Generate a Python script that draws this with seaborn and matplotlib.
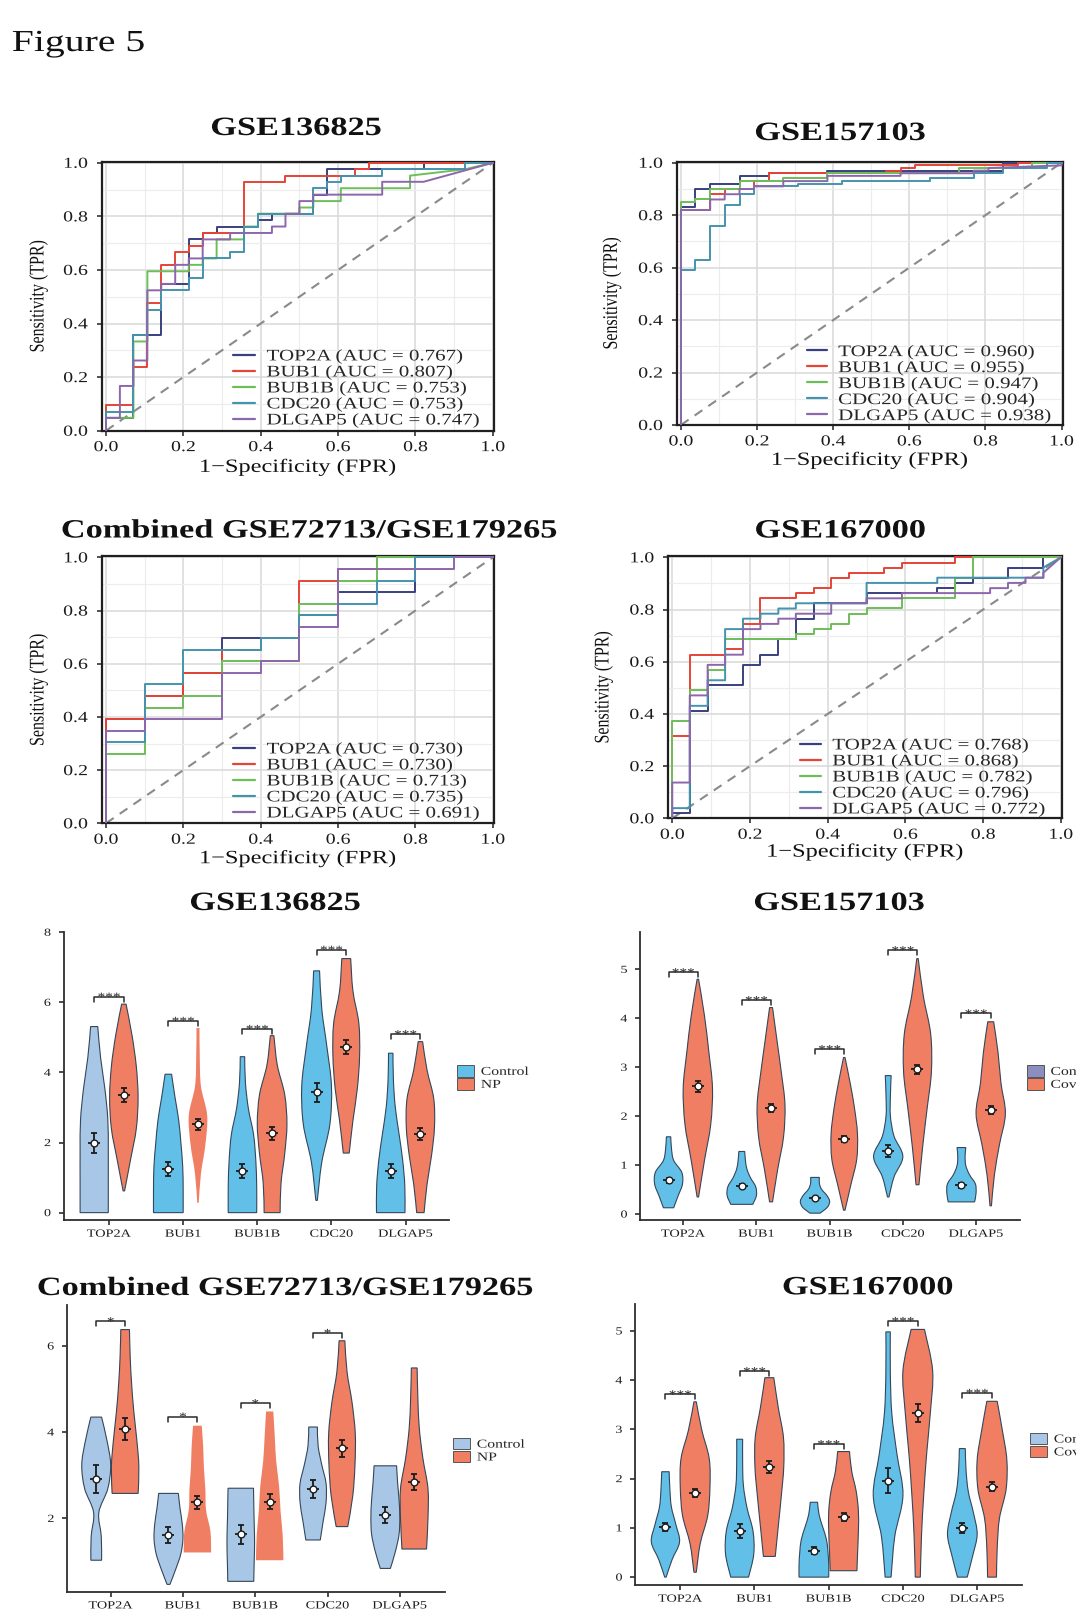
import matplotlib
matplotlib.use("Agg")
import matplotlib.pyplot as plt
import matplotlib.patheffects as pe
from matplotlib.path import Path
from matplotlib.patches import PathPatch, Patch
from matplotlib.lines import Line2D
from matplotlib.transforms import Affine2D
import seaborn as sns

# ---------------------------------------------------------------- data
GENES = ["TOP2A", "BUB1", "BUB1B", "CDC20", "DLGAP5"]

# ROC corner points, GSE136825
A_FPR = [
    [0, 0, 0.071, 0.071, 0.143, 0.143, 0.214, 0.214, 0.25, 0.25, 0.286, 0.286, 0.393, 0.393, 0.429, 0.429, 0.536, 0.536, 0.571, 0.571, 0.821, 0.821, 1.0],
    [0, 0, 0.071, 0.071, 0.107, 0.107, 0.143, 0.143, 0.179, 0.179, 0.214, 0.214, 0.25, 0.25, 0.357, 0.357, 0.464, 0.464, 0.643, 0.643, 0.679, 0.679, 1.0],
    [0, 0, 0.071, 0.071, 0.107, 0.107, 0.214, 0.214, 0.25, 0.25, 0.286, 0.286, 0.357, 0.357, 0.393, 0.393, 0.5, 0.5, 0.536, 0.536, 0.607, 0.607, 0.786, 0.786, 0.929, 1.0],
    [0, 0, 0.071, 0.071, 0.107, 0.107, 0.143, 0.143, 0.214, 0.214, 0.25, 0.25, 0.321, 0.321, 0.357, 0.357, 0.393, 0.393, 0.536, 0.536, 0.571, 0.571, 0.607, 0.607, 0.714, 0.714, 0.929, 0.929, 1.0],
    [0, 0, 0.036, 0.036, 0.071, 0.071, 0.107, 0.107, 0.143, 0.143, 0.179, 0.179, 0.214, 0.214, 0.25, 0.25, 0.321, 0.321, 0.429, 0.429, 0.464, 0.464, 0.5, 0.5, 0.536, 0.536, 0.714, 0.714, 0.821, 1.0],
]
A_TPR = [
    [0, 0.048, 0.048, 0.357, 0.357, 0.548, 0.548, 0.714, 0.714, 0.738, 0.738, 0.762, 0.762, 0.786, 0.786, 0.81, 0.81, 0.881, 0.881, 0.976, 0.976, 1.0, 1.0],
    [0, 0.095, 0.095, 0.238, 0.238, 0.476, 0.476, 0.619, 0.619, 0.667, 0.667, 0.69, 0.69, 0.738, 0.738, 0.929, 0.929, 0.952, 0.952, 0.976, 0.976, 1.0, 1.0],
    [0, 0.048, 0.048, 0.333, 0.333, 0.595, 0.595, 0.619, 0.619, 0.643, 0.643, 0.714, 0.714, 0.762, 0.762, 0.81, 0.81, 0.833, 0.833, 0.857, 0.857, 0.905, 0.905, 0.952, 0.976, 1.0],
    [0, 0.071, 0.071, 0.357, 0.357, 0.452, 0.452, 0.524, 0.524, 0.571, 0.571, 0.643, 0.643, 0.667, 0.667, 0.762, 0.762, 0.81, 0.81, 0.905, 0.905, 0.929, 0.929, 0.952, 0.952, 0.976, 0.976, 1.0, 1.0],
    [0, 0.048, 0.048, 0.167, 0.167, 0.262, 0.262, 0.524, 0.524, 0.548, 0.548, 0.619, 0.619, 0.643, 0.643, 0.714, 0.714, 0.738, 0.738, 0.762, 0.762, 0.81, 0.81, 0.857, 0.857, 0.881, 0.881, 0.929, 0.929, 1.0],
]
A_AUC = [0.767, 0.807, 0.753, 0.753, 0.747]

# ROC corner points, GSE157103
B_FPR = [
    [0, 0, 0.038, 0.038, 0.077, 0.077, 0.154, 0.154, 0.231, 0.231, 0.385, 0.385, 0.846, 0.846, 1.0],
    [0, 0, 0.077, 0.077, 0.115, 0.115, 0.192, 0.192, 0.231, 0.231, 0.538, 0.538, 0.577, 0.577, 0.615, 0.615, 0.885, 0.885, 1.0],
    [0, 0, 0.038, 0.038, 0.077, 0.077, 0.154, 0.154, 0.269, 0.269, 0.385, 0.385, 0.731, 0.731, 0.923, 0.923, 1.0],
    [0, 0, 0.038, 0.038, 0.077, 0.077, 0.115, 0.115, 0.154, 0.154, 0.192, 0.192, 0.308, 0.308, 0.423, 0.423, 0.654, 0.654, 0.769, 0.769, 0.846, 0.846, 0.962, 0.962, 1.0],
    [0, 0, 0.077, 0.077, 0.115, 0.115, 0.154, 0.154, 0.192, 0.192, 0.269, 0.269, 0.385, 0.385, 0.577, 0.577, 0.769, 0.769, 0.808, 0.808, 1.0, 1.0],
]
B_TPR = [
    [0, 0.83, 0.83, 0.9, 0.9, 0.92, 0.92, 0.95, 0.95, 0.96, 0.96, 0.97, 0.97, 1.0, 1.0],
    [0, 0.82, 0.82, 0.88, 0.88, 0.9, 0.9, 0.93, 0.93, 0.96, 0.96, 0.97, 0.97, 0.98, 0.98, 0.99, 0.99, 1.0, 1.0],
    [0, 0.85, 0.85, 0.86, 0.86, 0.9, 0.9, 0.93, 0.93, 0.94, 0.94, 0.96, 0.96, 0.98, 0.98, 1.0, 1.0],
    [0, 0.59, 0.59, 0.63, 0.63, 0.76, 0.76, 0.84, 0.84, 0.88, 0.88, 0.91, 0.91, 0.92, 0.92, 0.93, 0.93, 0.94, 0.94, 0.96, 0.96, 0.98, 0.98, 1.0, 1.0],
    [0, 0.82, 0.82, 0.86, 0.86, 0.88, 0.88, 0.9, 0.9, 0.91, 0.91, 0.93, 0.93, 0.95, 0.95, 0.96, 0.96, 0.97, 0.97, 0.98, 0.99, 1.0],
]
B_AUC = [0.960, 0.955, 0.947, 0.904, 0.938]

# ROC corner points, combined GSE72713/GSE179265
C_FPR = [
    [0, 0, 0.1, 0.1, 0.2, 0.2, 0.3, 0.3, 0.5, 0.5, 0.6, 0.6, 0.8, 0.8, 1.0],
    [0, 0, 0.1, 0.1, 0.2, 0.2, 0.3, 0.3, 0.4, 0.4, 0.5, 0.5, 0.6, 0.6, 0.7, 0.7, 1.0],
    [0, 0, 0.1, 0.1, 0.2, 0.2, 0.3, 0.3, 0.5, 0.5, 0.6, 0.6, 0.7, 0.7, 1.0],
    [0, 0, 0.1, 0.1, 0.2, 0.2, 0.4, 0.4, 0.5, 0.5, 0.6, 0.6, 0.7, 0.7, 0.8, 0.8, 1.0],
    [0, 0, 0.1, 0.1, 0.3, 0.3, 0.4, 0.4, 0.5, 0.5, 0.6, 0.6, 0.9, 0.9, 1.0],
]
C_TPR = [
    [0, 0.391, 0.391, 0.478, 0.478, 0.565, 0.565, 0.696, 0.696, 0.783, 0.783, 0.87, 0.87, 1.0, 1.0],
    [0, 0.391, 0.391, 0.478, 0.478, 0.565, 0.565, 0.652, 0.652, 0.696, 0.696, 0.913, 0.913, 0.957, 0.957, 1.0, 1.0],
    [0, 0.261, 0.261, 0.435, 0.435, 0.478, 0.478, 0.609, 0.609, 0.826, 0.826, 0.913, 0.913, 1.0, 1.0],
    [0, 0.304, 0.304, 0.522, 0.522, 0.652, 0.652, 0.696, 0.696, 0.783, 0.783, 0.826, 0.826, 0.913, 0.913, 1.0, 1.0],
    [0, 0.348, 0.348, 0.391, 0.391, 0.565, 0.565, 0.609, 0.609, 0.739, 0.739, 0.957, 0.957, 1.0, 1.0],
]
C_AUC = [0.730, 0.730, 0.713, 0.735, 0.691]

# ROC corner points, GSE167000
D_FPR = [
    [0, 0, 0.045, 0.045, 0.091, 0.091, 0.182, 0.182, 0.227, 0.227, 0.273, 0.273, 0.318, 0.318, 0.364, 0.364, 0.5, 0.5, 0.682, 0.682, 0.727, 0.727, 0.773, 0.773, 0.864, 0.864, 0.955, 0.955, 1.0],
    [0, 0, 0.045, 0.045, 0.136, 0.136, 0.182, 0.182, 0.227, 0.227, 0.318, 0.318, 0.364, 0.364, 0.409, 0.409, 0.455, 0.455, 0.545, 0.545, 0.591, 0.591, 0.727, 0.727, 1.0],
    [0, 0, 0.045, 0.045, 0.091, 0.091, 0.136, 0.136, 0.318, 0.318, 0.364, 0.364, 0.409, 0.409, 0.455, 0.455, 0.5, 0.5, 0.591, 0.591, 0.727, 0.727, 0.773, 0.773, 1.0],
    [0, 0, 0.045, 0.045, 0.091, 0.091, 0.136, 0.136, 0.182, 0.182, 0.227, 0.227, 0.273, 0.273, 0.318, 0.318, 0.5, 0.5, 0.682, 0.682, 0.955, 0.955, 1.0],
    [0, 0, 0.045, 0.045, 0.091, 0.091, 0.136, 0.136, 0.182, 0.182, 0.227, 0.227, 0.273, 0.273, 0.318, 0.318, 0.409, 0.409, 0.5, 0.5, 0.591, 0.591, 0.818, 0.818, 0.864, 0.864, 0.909, 0.909, 0.955, 0.955, 1.0],
]
D_TPR = [
    [0, 0.02, 0.02, 0.412, 0.412, 0.51, 0.51, 0.588, 0.588, 0.627, 0.627, 0.686, 0.686, 0.765, 0.765, 0.824, 0.824, 0.863, 0.863, 0.882, 0.882, 0.902, 0.902, 0.922, 0.922, 0.961, 0.961, 1.0, 1.0],
    [0, 0.314, 0.314, 0.627, 0.627, 0.647, 0.647, 0.745, 0.745, 0.843, 0.843, 0.863, 0.863, 0.882, 0.882, 0.922, 0.922, 0.941, 0.941, 0.961, 0.961, 0.98, 0.98, 1.0, 1.0],
    [0, 0.373, 0.373, 0.49, 0.49, 0.569, 0.569, 0.686, 0.686, 0.706, 0.706, 0.725, 0.725, 0.745, 0.745, 0.784, 0.784, 0.804, 0.804, 0.843, 0.843, 0.922, 0.922, 1.0, 1.0],
    [0, 0.039, 0.039, 0.431, 0.431, 0.529, 0.529, 0.725, 0.725, 0.765, 0.765, 0.784, 0.784, 0.804, 0.804, 0.824, 0.824, 0.902, 0.902, 0.922, 0.922, 0.961, 1.0],
    [0, 0.137, 0.137, 0.471, 0.471, 0.588, 0.588, 0.627, 0.627, 0.725, 0.725, 0.745, 0.745, 0.765, 0.765, 0.784, 0.784, 0.824, 0.824, 0.843, 0.843, 0.863, 0.863, 0.882, 0.882, 0.902, 0.902, 0.922, 0.922, 0.941, 1.0],
]
D_AUC = [0.768, 0.868, 0.782, 0.796, 0.772]

# Violin outlines: (min, max) of each group and relative half-widths at
# evenly spaced heights between them; group means with error bars.
E_CTRL_SPAN = [(0.0, 5.31), (0.0, 3.95), (0.0, 4.45), (0.35, 6.9), (0.0, 4.55)]
E_CTRL_SHAPE = [[0.95, 0.95, 0.95, 0.92, 0.72, 0.43, 0.24], [1.0, 1.0, 0.97, 0.85, 0.7, 0.45, 0.22],
                [0.96, 0.96, 0.9, 0.75, 0.4, 0.2, 0.15], [0.05, 0.35, 0.9, 1.0, 0.7, 0.35, 0.2],
                [0.96, 0.95, 0.8, 0.55, 0.3, 0.18, 0.15]]
E_CASE_SPAN = [(0.62, 5.95), (0.28, 5.27), (0.0, 5.05), (1.7, 7.25), (0.0, 4.88)]
E_CASE_SHAPE = [[0.05, 0.45, 0.84, 0.96, 0.84, 0.55, 0.15], [0.05, 0.2, 0.5, 0.62, 0.2, 0.12, 0.1],
                [0.54, 0.6, 0.85, 1.0, 0.85, 0.35, 0.12], [0.2, 0.45, 0.75, 0.9, 0.85, 0.45, 0.3],
                [0.25, 0.45, 0.75, 0.95, 0.9, 0.45, 0.15]]
E_CTRL_MEAN = [1.98, 1.25, 1.2, 3.43, 1.19]
E_CTRL_ERR = [0.28, 0.2, 0.2, 0.28, 0.2]
E_CASE_MEAN = [3.36, 2.52, 2.26, 4.72, 2.24]
E_CASE_ERR = [0.2, 0.15, 0.18, 0.2, 0.18]
E_BRACKET = [6.16, 5.47, 5.24, 7.5, 5.09]
E_STARS = ["***", "***", "***", "***", "***"]

F_CTRL_SPAN = [(0.13, 1.58), (0.2, 1.28), (0.02, 0.75), (0.35, 2.83), (0.25, 1.36)]
F_CTRL_SHAPE = [[0.35, 0.65, 0.95, 0.9, 0.35, 0.2, 0.15], [0.75, 1.0, 0.95, 0.6, 0.35, 0.25, 0.2],
                [0.35, 0.85, 1.0, 0.8, 0.45, 0.3, 0.3], [0.05, 0.4, 1.0, 0.4, 0.15, 0.15, 0.2],
                [0.9, 1.0, 0.95, 0.55, 0.3, 0.25, 0.3]]
F_CASE_SPAN = [(0.35, 4.8), (0.25, 4.22), (0.08, 3.2), (0.6, 5.22), (0.17, 3.93)]
F_CASE_SHAPE = [[0.05, 0.45, 0.88, 1.0, 0.75, 0.45, 0.05], [0.1, 0.45, 0.85, 0.95, 0.7, 0.4, 0.1],
                [0.05, 0.45, 0.85, 0.9, 0.7, 0.4, 0.05], [0.1, 0.35, 0.65, 0.95, 0.9, 0.4, 0.05],
                [0.05, 0.25, 0.6, 1.0, 0.7, 0.5, 0.2]]
F_CTRL_MEAN = [0.69, 0.57, 0.32, 1.29, 0.59]
F_CTRL_ERR = [0.05, 0.04, 0.04, 0.12, 0.05]
F_CASE_MEAN = [2.61, 2.16, 1.53, 2.96, 2.13]
F_CASE_ERR = [0.11, 0.08, 0.06, 0.09, 0.08]
F_BRACKET = [4.94, 4.37, 3.37, 5.39, 4.1]
F_STARS = ["***", "***", "***", "***", "***"]

G_CTRL_SPAN = [(1.03, 4.35), (0.47, 2.58), (0.54, 2.7), (1.5, 4.12), (0.84, 3.22)]
G_CTRL_SHAPE = [[0.37, 0.35, 0.18, 0.8, 1.0, 0.75, 0.37], [0.1, 0.5, 0.85, 1.0, 0.95, 0.8, 0.68],
                [0.9, 0.92, 0.95, 0.95, 0.92, 0.9, 0.88], [0.5, 0.7, 0.9, 0.9, 0.6, 0.35, 0.3],
                [0.35, 0.7, 0.95, 1.0, 0.95, 0.85, 0.78]]
G_CASE_SPAN = [(2.58, 6.38), (1.21, 4.15), (1.03, 4.48), (1.81, 6.12), (1.29, 5.49)]
G_CASE_SHAPE = [[0.9, 0.95, 0.8, 0.6, 0.45, 0.35, 0.3], [0.95, 0.9, 0.6, 0.55, 0.45, 0.4, 0.3],
                [0.95, 0.9, 0.75, 0.65, 0.45, 0.35, 0.25], [0.4, 0.75, 0.9, 0.92, 0.7, 0.35, 0.2],
                [0.85, 0.95, 0.95, 0.6, 0.35, 0.25, 0.2]]
G_CTRL_MEAN = [2.91, 1.61, 1.63, 2.68, 2.08]
G_CTRL_ERR = [0.33, 0.18, 0.22, 0.2, 0.18]
G_CASE_MEAN = [4.07, 2.37, 2.39, 3.63, 2.85]
G_CASE_ERR = [0.25, 0.16, 0.17, 0.2, 0.18]
G_BRACKET = [6.57, 4.36, 4.67, 6.3, None]
G_STARS = ["*", "*", "*", "*", ""]

H_CTRL_SPAN = [(0.0, 2.14), (0.0, 2.8), (0.0, 1.52), (0.0, 4.98), (0.0, 2.61)]
H_CTRL_SHAPE = [[0.05, 0.45, 0.95, 0.7, 0.4, 0.3, 0.25], [0.6, 0.95, 0.9, 0.5, 0.25, 0.2, 0.2],
                [1.0, 1.0, 0.95, 0.85, 0.6, 0.35, 0.25], [0.2, 0.45, 1.0, 0.6, 0.25, 0.15, 0.15],
                [0.33, 0.7, 1.0, 0.75, 0.4, 0.25, 0.2]]
H_CASE_SPAN = [(0.1, 3.56), (0.42, 4.05), (0.13, 2.55), (0.0, 5.03), (0.0, 3.57)]
H_CASE_SHAPE = [[0.08, 0.34, 0.85, 1.0, 0.95, 0.45, 0.08], [0.4, 0.6, 0.8, 0.97, 0.95, 0.6, 0.3],
                [0.9, 0.95, 1.0, 1.0, 0.85, 0.55, 0.4], [0.17, 0.25, 0.4, 0.6, 0.85, 1.0, 0.45],
                [0.3, 0.35, 0.5, 0.95, 1.0, 0.7, 0.35]]
H_CTRL_MEAN = [1.01, 0.93, 0.54, 1.96, 0.99]
H_CTRL_ERR = [0.08, 0.14, 0.07, 0.25, 0.1]
H_CASE_MEAN = [1.7, 2.23, 1.22, 3.34, 1.84]
H_CASE_ERR = [0.08, 0.12, 0.08, 0.18, 0.1]
H_BRACKET = [3.71, 4.18, 2.7, 5.2, 3.74]
H_STARS = ["***", "***", "***", "***", "***"]

# ---------------------------------------------------------------- style
ROC_COLORS = ["#3a3f80", "#e54436", "#6dbe58", "#4593ad", "#8c67ac"]
SKY = "#62bfe8"
PALE = "#a8c7e6"
LAVENDER = "#8e8dc0"
SALMON = "#ef7e62"
EDGE = "#34475a"
INK = "#1c1c1c"
HALF = 0.2          # half-width of a violin at relative width 1
STRETCH = 1.3       # horizontal widening of the serif lettering

sns.set_theme(style="white")
plt.rcParams["font.family"] = ["Liberation Serif", "DejaVu Serif"]

W, H = 1076, 1612
fig = plt.figure(figsize=(W / 100, H / 100), dpi=100)
fig.patch.set_facecolor("white")


class StretchX(pe.AbstractPathEffect):
    """Draw a text path widened horizontally about one of its edges."""

    def __init__(self, sx=STRETCH, anchor="center"):
        super().__init__()
        self._sx = sx
        self._anchor = anchor

    def draw_path(self, renderer, gc, tpath, affine, rgbFace=None):
        ext = tpath.get_extents(affine)
        if self._anchor == "left":
            cx = ext.x0
        elif self._anchor == "right":
            cx = ext.x1
        else:
            cx = 0.5 * (ext.x0 + ext.x1)
        widen = Affine2D().translate(-cx, 0).scale(self._sx, 1).translate(cx, 0)
        renderer.draw_path(gc, tpath, affine + widen, rgbFace)


def widen(texts, anchor):
    for t in texts:
        t.set_path_effects([StretchX(STRETCH, anchor)])


def px_axes(l, t, r, b):
    return fig.add_axes([l / W, 1 - b / H, (r - l) / W, (b - t) / H])


def fig_text(x, y, s, size, weight="normal", ha="center"):
    t = fig.text(x / W, 1 - y / H, s, fontsize=size, fontweight=weight,
                 ha=ha, va="baseline", color="#111111")
    widen([t], ha)
    return t


fig_text(12, 51, "Figure 5", 22, ha="left")


def roc_panel(box, title, title_xy, tsize, fprs, tprs, aucs, leg_xy, hlen, ylab_x, xlab_y):
    l, t, r, b = box
    ax = px_axes(l, t, r, b)
    ax.set_facecolor("white")
    ax.plot([0, 1], [0, 1], ls=(0, (4.5, 3.5)), color="#8a8a8a", lw=1.5, zorder=1.5)
    for f, tp, c in zip(fprs, tprs, ROC_COLORS):
        sns.lineplot(x=f, y=tp, sort=False, estimator=None, color=c,
                     linewidth=1.4, legend=False, ax=ax, zorder=3)
    ax.set_xlim(-0.011, 1.003)
    ax.set_ylim(0, 1.004)
    ticks = [0.0, 0.2, 0.4, 0.6, 0.8, 1.0]
    minor = [0.1, 0.3, 0.5, 0.7, 0.9]
    ax.set_xticks(ticks)
    ax.set_yticks(ticks)
    xl = ax.set_xticklabels([f"{v:.1f}" for v in ticks])
    yl = ax.set_yticklabels([f"{v:.1f}" for v in ticks])
    ax.set_xticks(minor, minor=True)
    ax.set_yticks(minor, minor=True)
    ax.set_axisbelow(True)
    ax.grid(True, which="major", color="#d9d9d9", lw=1.1)
    ax.grid(True, which="minor", color="#ececec", lw=0.8)
    ax.tick_params(which="major", bottom=True, left=True, direction="out",
                   length=3.6, width=1.1, color="#222222", labelsize=11,
                   labelcolor="#1a1a1a")
    ax.tick_params(axis="x", which="major", pad=3.9)
    ax.tick_params(axis="y", which="major", pad=6.5)
    ax.tick_params(which="minor", length=0)
    widen(xl, "center")
    widen(yl, "right")
    for sp in ax.spines.values():
        sp.set_visible(True)
        sp.set_color("#1f1f1f")
        sp.set_linewidth(1.6)
    ax.set_xlabel("1\u2212Specificity (FPR)", fontsize=13.5, va="center", color="#111111")
    ax.xaxis.set_label_coords(0.5, -(xlab_y - b) / (b - t))
    ax.set_ylabel("Sensitivity (TPR)", fontsize=11.5, va="center", color="#111111")
    ax.yaxis.set_label_coords((ylab_x - l) / (r - l), 0.5)
    widen([ax.xaxis.label, ax.yaxis.label], "center")
    handles = [Line2D([], [], color=c, lw=1.6) for c in ROC_COLORS]
    labels = [f"{g} (AUC = {a:.3f})" for g, a in zip(GENES, aucs)]
    leg = ax.legend(handles, labels, loc="upper left",
                    bbox_to_anchor=(leg_xy[0] / W, 1 - leg_xy[1] / H),
                    bbox_transform=fig.transFigure, frameon=False, borderpad=0,
                    borderaxespad=0, handlelength=hlen, handletextpad=0.72,
                    labelspacing=0.0, fontsize=11.6)
    widen(leg.get_texts(), "left")
    fig_text(title_xy[0], title_xy[1], title, tsize, weight="bold")
    return ax


def _side(pts, xc, sign):
    verts, codes = [], []
    n = len(pts)
    for i in range(n - 1):
        p0, p1 = pts[max(i - 1, 0)], pts[i]
        p2, p3 = pts[i + 1], pts[min(i + 2, n - 1)]
        c1 = [p1[0] + (p2[0] - p0[0]) / 6, p1[1] + (p2[1] - p0[1]) / 6]
        c2 = [p2[0] - (p3[0] - p1[0]) / 6, p2[1] - (p3[1] - p1[1]) / 6]
        for c in (c1, c2):
            c[0] = max(c[0], xc) if sign > 0 else min(c[0], xc)
        verts += [tuple(c1), tuple(c2), p2]
        codes += [Path.CURVE4] * 3
    return verts, codes


def violin(ax, xc, span, shape, color, edge):
    lo, hi = span
    n = len(shape)
    ys = [lo + (hi - lo) * k / (n - 1) for k in range(n)]
    right = [(xc + HALF * w, y) for w, y in zip(shape, ys)]
    left = [(xc - HALF * w, y) for w, y in zip(shape, ys)][::-1]
    verts, codes = [right[0]], [Path.MOVETO]
    v, c = _side(right, xc, 1)
    verts += v
    codes += c
    verts.append(left[0])
    codes.append(Path.LINETO)
    v, c = _side(left, xc, -1)
    verts += v
    codes += c
    verts.append(right[0])
    codes.append(Path.CLOSEPOLY)
    ax.add_patch(PathPatch(Path(verts, codes), facecolor=color,
                           edgecolor=EDGE if edge else "none", lw=0.8, zorder=2))


def mean_marker(ax, x, m, e):
    ax.errorbar([x], [m], yerr=[e], fmt="none", ecolor=INK, elinewidth=1.3,
                capsize=2.4, capthick=1.3, zorder=4)
    ax.plot([x], [m], marker="_", ms=8.5, mew=1.3, color=INK, zorder=5)
    ax.plot([x], [m], marker="o", ms=4.9, mfc="white", mec=INK, mew=1.0, zorder=6)


def violin_panel(box, xlim, ylim, yticks, title, title_xy, tsize,
                 cspan, cshape, kspan, kshape, cmean, cerr, kmean, kerr,
                 bracket, stars, ctrl_cols, case_edge, leg_labels, leg_cols, leg_xy):
    l, t, r, b = box
    ax = px_axes(l, t, r, b)
    ax.set_facecolor("white")
    ax.set_xlim(*xlim)
    ax.set_ylim(*ylim)
    for i in range(len(GENES)):
        violin(ax, i - 0.2, cspan[i], cshape[i], ctrl_cols[i], True)
        violin(ax, i + 0.2, kspan[i], kshape[i], SALMON, case_edge[i])
        mean_marker(ax, i - 0.2, cmean[i], cerr[i])
        mean_marker(ax, i + 0.2, kmean[i], kerr[i])
    drop = 5.0 * (ylim[1] - ylim[0]) / (b - t)
    for i, (yb, s) in enumerate(zip(bracket, stars)):
        if not s:
            continue
        ax.plot([i - 0.2, i - 0.2, i + 0.2, i + 0.2], [yb - drop, yb, yb, yb - drop],
                color="#2a2a2a", lw=1.1, zorder=3)
        st = ax.annotate(s, xy=(i, yb), xytext=(0, -2.6), textcoords="offset points",
                         ha="center", va="baseline", fontsize=8.5, color="#222222")
        widen([st], "center")
    ax.set_xticks(range(len(GENES)))
    xl = ax.set_xticklabels(GENES)
    ax.set_yticks(yticks)
    yl = ax.set_yticklabels([str(v) for v in yticks])
    for side in ("top", "right"):
        ax.spines[side].set_visible(False)
    for side in ("left", "bottom"):
        ax.spines[side].set_visible(True)
        ax.spines[side].set_color("#2e2e2e")
        ax.spines[side].set_linewidth(1.3)
    ax.tick_params(bottom=True, left=True, direction="out", length=3.6, width=1.2,
                   color="#2e2e2e", labelcolor="#1a1a1a")
    ax.tick_params(axis="x", labelsize=7.9, pad=3.4)
    ax.tick_params(axis="y", labelsize=7.8, pad=5.5)
    widen(xl, "center")
    widen(yl, "right")
    handles = [Patch(facecolor=c, edgecolor="#555555", lw=0.7) for c in leg_cols]
    leg = ax.legend(handles, leg_labels, loc="upper left",
                    bbox_to_anchor=(leg_xy[0] / W, 1 - leg_xy[1] / H),
                    bbox_transform=fig.transFigure, frameon=False, borderpad=0,
                    borderaxespad=0, handlelength=1.43, handleheight=1.1,
                    handletextpad=0.55, labelspacing=0.0, fontsize=8.7)
    widen(leg.get_texts(), "left")
    fig_text(title_xy[0], title_xy[1], title, tsize, weight="bold")
    return ax


# ---------------------------------------------------------------- ROC panels
roc_panel((101.7, 161.7, 494, 430.7), "GSE136825", (296, 135), 19,
          A_FPR, A_TPR, A_AUC, (233, 348.4), 1.37, 38.3, 467)
roc_panel((676.7, 161.7, 1062.7, 425), "GSE157103", (840, 140), 19,
          B_FPR, B_TPR, B_AUC, (806.7, 344.1), 1.24, 611.7, 460)
roc_panel((101.7, 556.3, 494, 823.3), "Combined GSE72713/GSE179265", (309, 537.5), 19,
          C_FPR, C_TPR, C_AUC, (233, 741.4), 1.37, 38.3, 858.3)
roc_panel((668, 556.3, 1062, 818.3), "GSE167000", (840, 537.5), 19,
          D_FPR, D_TPR, D_AUC, (800, 737.4), 1.29, 603.3, 851.7)

# ---------------------------------------------------------------- violin panels
violin_panel((63.5, 932.3, 449.3, 1220), (-0.614, 4.59), (-0.21, 8.0), [0, 2, 4, 6, 8],
             "GSE136825", (275, 910), 19,
             E_CTRL_SPAN, E_CTRL_SHAPE, E_CASE_SPAN, E_CASE_SHAPE,
             E_CTRL_MEAN, E_CTRL_ERR, E_CASE_MEAN, E_CASE_ERR, E_BRACKET, E_STARS,
             [PALE, SKY, SKY, SKY, SKY], [True, False, True, True, True],
             ["Control", "NP"], [SKY, SALMON], (457, 1065))
violin_panel((640, 931.7, 1020, 1220), (-0.59, 4.6), (-0.12, 5.77), [0, 1, 2, 3, 4, 5],
             "GSE157103", (839, 910), 19,
             F_CTRL_SPAN, F_CTRL_SHAPE, F_CASE_SPAN, F_CASE_SHAPE,
             F_CTRL_MEAN, F_CTRL_ERR, F_CASE_MEAN, F_CASE_ERR, F_BRACKET, F_STARS,
             [SKY] * 5, [True] * 5,
             ["Control", "Covid"], [LAVENDER, SALMON], (1026.7, 1065))
violin_panel((66.8, 1305, 444.6, 1591.7), (-0.607, 4.62), (0.3, 6.95), [2, 4, 6],
             "Combined GSE72713/GSE179265", (285, 1295), 19,
             G_CTRL_SPAN, G_CTRL_SHAPE, G_CASE_SPAN, G_CASE_SHAPE,
             G_CTRL_MEAN, G_CTRL_ERR, G_CASE_MEAN, G_CASE_ERR, G_BRACKET, G_STARS,
             [PALE] * 5, [True, False, False, True, True],
             ["Control", "NP"], [PALE, SALMON], (453, 1437.7))
violin_panel((635, 1304.3, 1021.7, 1585), (-0.61, 4.6), (-0.16, 5.54), [0, 1, 2, 3, 4, 5],
             "GSE167000", (867.5, 1294.3), 19,
             H_CTRL_SPAN, H_CTRL_SHAPE, H_CASE_SPAN, H_CASE_SHAPE,
             H_CTRL_MEAN, H_CTRL_ERR, H_CASE_MEAN, H_CASE_ERR, H_BRACKET, H_STARS,
             [SKY] * 5, [True] * 5,
             ["Control", "Covid"], [PALE, SALMON], (1030, 1432.6))

fig.savefig("out.png", dpi=100, facecolor="white")
